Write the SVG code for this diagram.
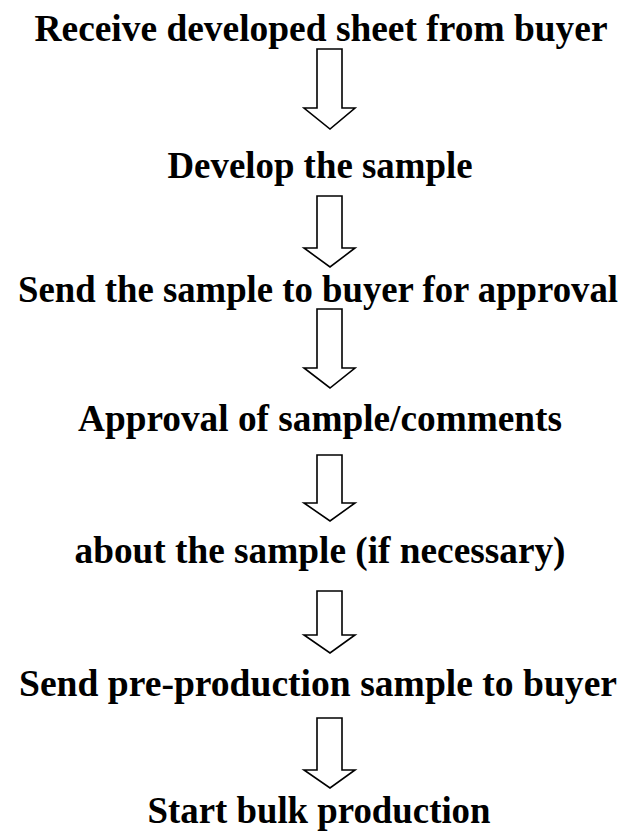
<svg xmlns="http://www.w3.org/2000/svg" width="632" height="832" viewBox="0 0 632 832">
  <style>
    .step { font-family: "Liberation Serif", "Times New Roman", serif; font-weight: bold; font-size: 37px; fill: #000; text-anchor: middle; }
    .arrow { fill: #fff; stroke: #000; stroke-width: 1.6; stroke-linejoin: miter; }
  </style>
  <rect width="632" height="832" fill="#fff"/>

  <!-- hollow block arrows between the steps -->
  <g id="connectors">
    <path class="arrow" d="M 317 49 H 342 V 108 H 355 L 330 129 L 304 108 H 317 Z"/>
    <path class="arrow" d="M 317 196 H 342 V 248 H 355 L 330 267 L 304 248 H 317 Z"/>
    <path class="arrow" d="M 317 309 H 342 V 368 H 355 L 330 388 L 304 368 H 317 Z"/>
    <path class="arrow" d="M 317 455 H 342 V 503 H 355 L 330 521 L 304 503 H 317 Z"/>
    <path class="arrow" d="M 317 591 H 342 V 635 H 355 L 330 653 L 304 635 H 317 Z"/>
    <path class="arrow" d="M 317 718 H 342 V 770 H 355 L 330 788 L 304 770 H 317 Z"/>
  </g>

  <g id="n1"><text class="step" x="321" y="41" textLength="573" lengthAdjust="spacingAndGlyphs">Receive developed sheet from buyer</text></g>
  <g id="n2"><text class="step" x="320" y="178" textLength="305" lengthAdjust="spacingAndGlyphs">Develop the sample</text></g>
  <g id="n3"><text class="step" x="318" y="302" textLength="600" lengthAdjust="spacingAndGlyphs">Send the sample to buyer for approval</text></g>
  <g id="n4"><text class="step" x="320" y="431" textLength="484" lengthAdjust="spacingAndGlyphs">Approval of sample/comments</text></g>
  <g id="n5"><text class="step" x="320" y="563" textLength="491" lengthAdjust="spacingAndGlyphs">about the sample (if necessary)</text></g>
  <g id="n6"><text class="step" x="318" y="696" textLength="598" lengthAdjust="spacingAndGlyphs">Send pre-production sample to buyer</text></g>
  <g id="n7"><text class="step" x="319" y="823" textLength="343" lengthAdjust="spacingAndGlyphs">Start bulk production</text></g>
</svg>
